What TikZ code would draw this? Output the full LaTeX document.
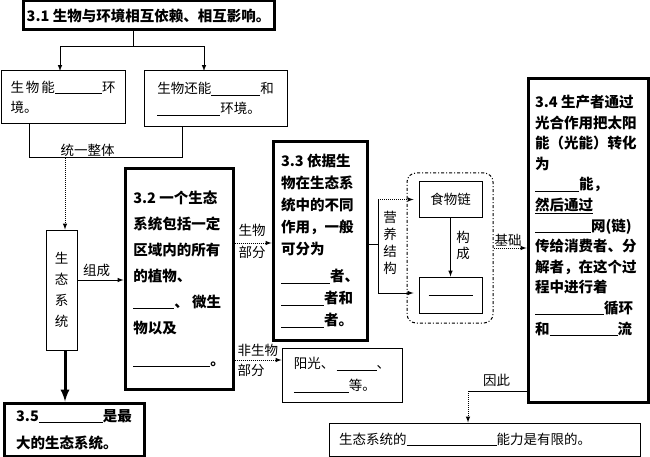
\documentclass[tikz,border=0pt]{standalone}
\usepackage{fontspec}
\setmainfont{Noto Sans CJK SC}
\usetikzlibrary{arrows}
\newcommand{\fillin}[1]{\rule[-1.5pt]{#1pt}{0.7pt}}

\begin{document}
\begin{tikzpicture}[x=1pt,y=1pt,>=latex,line width=1pt,
  thinbox/.style={draw,line width=1pt,inner sep=0pt,align=left,font=\fontsize{13.5}{20}\selectfont},
  thickbox/.style={draw,line width=3pt,inner sep=0pt,align=left,font=\bfseries\fontsize{14.5}{26}\selectfont},
  lbl/.style={inner sep=0pt,align=center,font=\fontsize{13.5}{21}\selectfont},
  dotline/.style={densely dotted}]
\useasboundingbox (0,0) rectangle (650,-457);

\node[thickbox,minimum width=251,minimum height=29] (T) at (148.5,-15.5) {3.1 生物与环境相互依赖、相互影响。};
\node[thinbox,minimum width=124,minimum height=53] (bA) at (63,-97.5) {生\hspace{2pt}物\hspace{2pt}能\fillin{47}环\\境。};
\node[thinbox,minimum width=143,minimum height=56] (bB) at (215.5,-99) {生物还能\fillin{49}和\\\fillin{63}环境。};

\node[thinbox,align=center,minimum width=31,minimum height=120,font=\fontsize{13.5}{21}\selectfont] (S) at (61.5,-290) {生\\态\\系\\统};
\node[thickbox,minimum width=108,minimum height=220] (P2) at (179,-279) {3.2 一个生态\\系统包括一定\\区域内的所有\\的植物、\\\fillin{41}、 微生\\物以及\\[6pt]\fillin{77}。};
\node[thickbox,minimum width=140,minimum height=53,font=\bfseries\fontsize{14.5}{27}\selectfont] (P5) at (74,-429.5) {3.5\fillin{64}是最\\大的生态系统。};

\node[thickbox,minimum width=94,minimum height=198,font=\bfseries\fontsize{14.5}{22}\selectfont] (P3) at (320,-241) {3.3 依据生\\物在生态系\\统中的不同\\作用，一般\\可分为\\[5pt]\fillin{49}者、\\\fillin{43}者和\\\fillin{43}者。};
\node[thinbox,minimum width=120,minimum height=54,font=\fontsize{13.5}{22}\selectfont] (Y) at (342,-375) {阳光、\,\fillin{40}、\\\fillin{55}等。};

\node[draw,dash dot,rounded corners=9pt,minimum width=86,minimum height=150] (G) at (450,-248) {};
\node[thinbox,align=center,minimum width=63,minimum height=35] (F) at (450.5,-199.5) {食物链};
\node[thinbox,align=center,minimum width=63,minimum height=36] (L) at (450.5,-295) {\fillin{44}};

\node[thickbox,minimum width=120,minimum height=323] (P4) at (588,-240.5) {\parbox[c][291pt][t]{106pt}{\raggedright\fontsize{14.5}{20.6}\selectfont
3.4 生产者通过\\光合作用把太阳\\能（光能）转化\\为\\\fillin{44}能，\\\underline{然后通过}\\\fillin{56}网(链)\\传给消费者、分\\解者，在这个过\\程中进行着\\\fillin{69}循环\\和\fillin{68}流}};
\node[thinbox,minimum width=311,minimum height=33,text width=291] (Z) at (484.5,-439.5) {生态系统的\fillin{90}能力是有限的。};

\coordinate (j1) at (133,-47);
\coordinate (aA) at (60,-71);
\coordinate (aB) at (204,-71);
\draw (T.south -| j1) -- (j1);
\draw[->] (j1) -| (aA);
\draw[->] (j1) -| (aB);

\coordinate (j2) at (29,-158);
\coordinate (j3) at (182,-158);
\coordinate (j4) at (65,-158);
\draw (bA.south -| j2) -- (j2) -- (j3) -- (bB.south -| j3);
\path[->,dotline] (j4) edge [] node[]{} (S.north -| j4);
\node[lbl] (t1) at (87.5,-150) {统一整体};

\path[->] ([yshift=10pt]S.east) edge [] node[]{} ([yshift=10pt]S.east -| P2.west);
\node[lbl] (t2) at (96.5,-270) {组成};
\path[->,line width=3pt] (S.south -| j4) edge [] node[]{} (P5.north -| j4);

\path[->,dotline] ([yshift=-2pt]P3.west -| P2.east) edge [] node[]{} ([yshift=-2pt]P3.west);
\node[lbl,align=left,anchor=west,font=\fontsize{13.5}{22}\selectfont] (t3) at (238,-241) {生物\\部分};
\path[->,dotline] ([yshift=15pt]Y.west -| P2.east) edge [] node[]{} ([yshift=15pt]Y.west);
\node[lbl,align=left,anchor=west,font=\fontsize{13.5}{20}\selectfont] (t4) at (237,-360) {非生物\\部分};

\coordinate (k) at (378,-244);
\coordinate (k1) at (378,-199.5);
\coordinate (k2) at (378,-293);
\draw (P3.east |- k) -- (k);
\draw (k1) -- (k2);
\path[->,dotline] (k1) edge [] node[]{} ([xshift=-5pt]F.west);
\path[->] (k2) edge [] node[]{} ([xshift=-5pt]L.west |- k2);
\node[lbl,font=\fontsize{13.5}{17}\selectfont] (t5) at (390,-243) {营\\养\\结\\构};

\path[->] (F.south) edge [] node[]{} (L.north);
\node[lbl,font=\fontsize{13.5}{16}\selectfont] (t6) at (463,-245) {构\\成};

\path[->,dotline] (G.east) edge [] node[]{} (G.east -| P4.west);
\node[lbl] (t7) at (508,-240) {基础};

\coordinate (m) at (468,-391);
\draw (m -| P4.west) -- (m);
\path[->,dotline] (m) edge [] node[]{} (m |- Z.north);
\node[lbl] (t8) at (496.5,-380) {因此};

\end{tikzpicture}
\end{document}
